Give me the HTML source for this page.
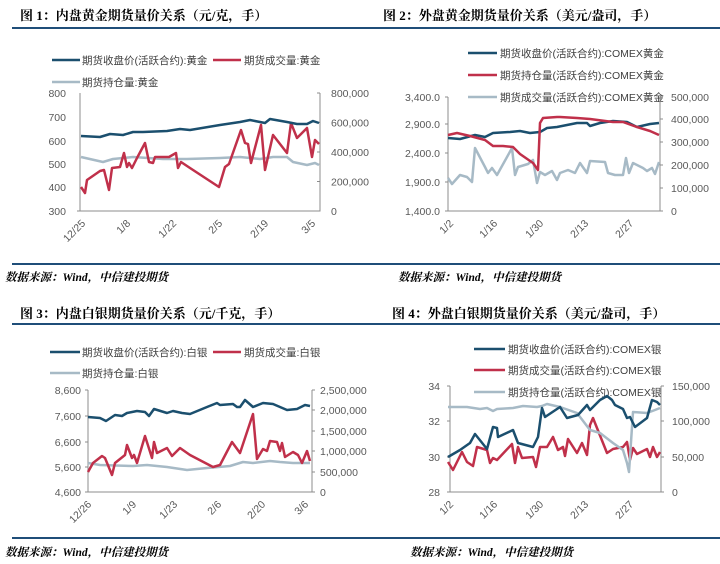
<!DOCTYPE html>
<html><head><meta charset="utf-8"><style>
html,body{margin:0;padding:0;background:#fff;}
svg{display:block;font-family:"Liberation Sans","Noto Sans CJK SC",sans-serif;}
.t{font-size:13px;font-weight:bold;fill:#000;font-family:"Liberation Serif","Noto Serif CJK SC",serif;}
.s{font-size:11.5px;font-weight:bold;font-style:italic;fill:#000;font-family:"Liberation Serif","Noto Serif CJK SC",serif;}
.l{font-size:10.5px;fill:#404040;}
.a{font-size:10.5px;fill:#595959;}
.ax{stroke:#8c8c8c;stroke-width:1;fill:none;}
.b{stroke:#1b4f6e;stroke-width:2.5;fill:none;stroke-linejoin:round;}
.r{stroke:#c0304a;stroke-width:2.5;fill:none;stroke-linejoin:round;}
.g{stroke:#a7bac6;stroke-width:2.5;fill:none;stroke-linejoin:round;}
.d{stroke:#1f4e79;stroke-width:2;}
</style></head><body>
<svg width="720" height="564" viewBox="0 0 720 564">
<!-- Chart 1 -->
<text class="t" x="20" y="20">图 1：内盘黄金期货量价关系（元/克，手）</text>
<line class="d" x1="12" y1="28" x2="360" y2="28"/>
<line class="b" x1="52" y1="60" x2="80" y2="60"/><text class="l" x="82" y="64">期货收盘价(活跃合约):黄金</text>
<line class="r" x1="213" y1="60" x2="241" y2="60"/><text class="l" x="244" y="64">期货成交量:黄金</text>
<line class="g" x1="52" y1="82" x2="80" y2="82"/><text class="l" x="82" y="86">期货持仓量:黄金</text>
<path class="ax" d="M80,93V211H320V93M77,211H80M317,93H320M317,122.5H320M317,152H320M317,181.5H320M317,211H320"/>
<g class="a" text-anchor="end"><text x="66" y="97">800</text><text x="66" y="121">700</text><text x="66" y="145">600</text><text x="66" y="168">500</text><text x="66" y="191">400</text><text x="66" y="215">300</text></g>
<g class="a"><text x="331" y="97">800,000</text><text x="331" y="126.5">600,000</text><text x="331" y="156">400,000</text><text x="331" y="185.5">200,000</text><text x="331" y="215">0</text></g>
<g class="a" text-anchor="end"><text transform="translate(86,224) rotate(-45)">12/25</text><text transform="translate(131,224) rotate(-45)">1/8</text><text transform="translate(177,224) rotate(-45)">1/22</text><text transform="translate(223,224) rotate(-45)">2/5</text><text transform="translate(269,224) rotate(-45)">2/19</text><text transform="translate(316,224) rotate(-45)">3/5</text></g>
<polyline class="g" points="81,157 103,162 113,159 133,157 163,159 187,159 220,158 240,157 260,159 273,157 287,157 293,162 307,165 315,163 319,165"/>
<polyline class="r" points="81,187 85,193 87,180 100,171 104,170 109,190 112,168 120,167 124,153 127,167 129,163 132,168 137,158 145,143 149,162 153,163 155,157 169,157 176,153 178,168 181,162 190,168 219,187 225,167 229,164 241,130 245,143 248,144 251,163 261,125 265,170 273,135 287,153 291,123 297,138 307,128 312,157 315,140 319,144"/>
<polyline class="b" points="81,136 100,137 110,134 123,135 133,132 143,132 167,131 180,129 190,130 220,125 240,122 250,120 265,123 270,119 287,122 297,124 307,124 313,121 319,123"/>
<line class="d" x1="12" y1="264" x2="360" y2="264"/>
<text class="s" x="5" y="281">数据来源：Wind，中信建投期货</text>

<!-- Chart 2 -->
<text class="t" x="383" y="20">图 2：外盘黄金期货量价关系（美元/盎司，手）</text>
<line class="d" x1="360" y1="28" x2="720" y2="28"/>
<line class="b" x1="468" y1="53" x2="497" y2="53"/><text class="l" x="500" y="57">期货收盘价(活跃合约):COMEX黄金</text>
<line class="r" x1="468" y1="75" x2="497" y2="75"/><text class="l" x="500" y="79">期货持仓量(活跃合约):COMEX黄金</text>
<line class="g" x1="468" y1="97" x2="497" y2="97"/><text class="l" x="500" y="101">期货成交量(活跃合约):COMEX黄金</text>
<path class="ax" d="M448,97V211H660V97M445,97H448M445,124H448M445,153H448M445,182H448M445,211H448M660,97H663M660,119H663M660,142H663M660,165H663M660,188H663M660,211H663"/>
<g class="a" text-anchor="end"><text x="440" y="101">3,400.0</text><text x="440" y="128">2,900.0</text><text x="440" y="157">2,400.0</text><text x="440" y="186">1,900.0</text><text x="440" y="215">1,400.0</text></g>
<g class="a"><text x="671" y="101">500,000</text><text x="671" y="123">400,000</text><text x="671" y="146">300,000</text><text x="671" y="169">200,000</text><text x="671" y="192">100,000</text><text x="671" y="215">0</text></g>
<g class="a" text-anchor="end"><text transform="translate(454,224) rotate(-45)">1/2</text><text transform="translate(498,224) rotate(-45)">1/16</text><text transform="translate(544,224) rotate(-45)">1/30</text><text transform="translate(589,224) rotate(-45)">2/13</text><text transform="translate(634,224) rotate(-45)">2/27</text></g>
<polyline class="g" points="448,178 452,184 460,175 467,177 472,182 475,148 485,167 488,173 492,168 497,175 512,148 515,175 518,167 528,164 533,160 537,183 540,172 545,175 552,171 557,180 560,173 568,170 575,173 580,163 587,173 590,161 605,162 608,173 615,175 623,175 626,158 629,173 633,163 643,168 647,171 652,168 655,174 659,162"/>
<polyline class="b" points="448,138 460,139 475,135 485,137 493,133 510,132 520,131 530,133 540,132 547,128 557,127 567,125 577,123 587,123 590,126 600,123 613,121 627,122 637,127 650,124 659,123"/>
<polyline class="r" points="448,135 457,133 470,136 485,140 493,146 503,146 513,147 520,154 533,163 538,170 540,123 543,118 557,117 560,117 577,118 590,119 613,122 623,122 637,127 650,131 659,135"/>
<line class="d" x1="360" y1="264" x2="720" y2="264"/>
<text class="s" x="398" y="281">数据来源：Wind，中信建投期货</text>

<!-- Chart 3 -->
<text class="t" x="20" y="318">图 3：内盘白银期货量价关系（元/千克，手）</text>
<line class="d" x1="12" y1="324" x2="360" y2="324"/>
<line class="b" x1="50" y1="352" x2="80" y2="352"/><text class="l" x="82" y="356">期货收盘价(活跃合约):白银</text>
<line class="r" x1="213" y1="352" x2="241" y2="352"/><text class="l" x="244" y="356">期货成交量:白银</text>
<line class="g" x1="50" y1="373" x2="80" y2="373"/><text class="l" x="82" y="377">期货持仓量:白银</text>
<path class="ax" d="M88,390V492H312V390M85,390H88M85,416H88M85,442H88M85,467H88M85,492H88M312,390H315M312,410H315M312,431H315M312,451H315M312,472H315M312,492H315"/>
<g class="a" text-anchor="end"><text x="81" y="394">8,600</text><text x="81" y="420">7,600</text><text x="81" y="446">6,600</text><text x="81" y="471">5,600</text><text x="81" y="496">4,600</text></g>
<g class="a"><text x="320" y="394">2,500,000</text><text x="320" y="414">2,000,000</text><text x="320" y="435">1,500,000</text><text x="320" y="455">1,000,000</text><text x="320" y="476">500,000</text><text x="320" y="496">0</text></g>
<g class="a" text-anchor="end"><text transform="translate(92,505) rotate(-45)">12/26</text><text transform="translate(137,505) rotate(-45)">1/9</text><text transform="translate(178,505) rotate(-45)">1/23</text><text transform="translate(222,505) rotate(-45)">2/6</text><text transform="translate(266,505) rotate(-45)">2/20</text><text transform="translate(309,505) rotate(-45)">3/6</text></g>
<polyline class="g" points="88,463 100,465 133,466 147,465 167,467 187,470 207,468 230,466 243,462 253,463 270,461 280,462 293,463 310,463"/>
<polyline class="r" points="88,472 93,463 102,456 105,458 112,475 115,463 125,455 127,445 132,458 134,455 137,463 145,436 152,458 154,442 157,453 167,448 172,456 180,448 190,455 213,467 220,465 232,442 240,453 253,414 257,459 263,449 267,451 270,441 277,442 280,451 282,443 285,457 293,452 298,455 302,463 307,451 310,461"/>
<polyline class="b" points="88,417 100,418 106,421 115,415 122,416 127,413 137,411 145,412 149,416 154,409 167,413 173,411 182,413 190,414 207,407 217,403 220,405 233,404 237,407 240,407 245,400 253,407 263,403 273,404 280,407 287,410 297,409 305,405 310,406"/>
<line class="d" x1="12" y1="538" x2="360" y2="538"/>
<text class="s" x="5" y="556">数据来源：Wind，中信建投期货</text>

<!-- Chart 4 -->
<text class="t" x="392" y="318">图 4：外盘白银期货量价关系（美元/盎司，手）</text>
<line class="d" x1="360" y1="324" x2="720" y2="324"/>
<line class="b" x1="474" y1="349" x2="505" y2="349"/><text class="l" x="508" y="353">期货收盘价(活跃合约):COMEX银</text>
<line class="r" x1="474" y1="370" x2="505" y2="370"/><text class="l" x="508" y="374">期货成交量(活跃合约):COMEX银</text>
<line class="g" x1="474" y1="392" x2="505" y2="392"/><text class="l" x="508" y="396">期货持仓量(活跃合约):COMEX银</text>
<path class="ax" d="M450,386V492H661V386M447,386H450M447,421H450M447,457H450M447,492H450M661,386H664M661,421H664M661,457H664M661,492H664"/>
<g class="a" text-anchor="end"><text x="440" y="390">34</text><text x="440" y="425">32</text><text x="440" y="461">30</text><text x="440" y="496">28</text></g>
<g class="a"><text x="672" y="390">150,000</text><text x="672" y="425">100,000</text><text x="672" y="461">50,000</text><text x="672" y="496">0</text></g>
<g class="a" text-anchor="end"><text transform="translate(454,505) rotate(-45)">1/2</text><text transform="translate(498,505) rotate(-45)">1/16</text><text transform="translate(544,505) rotate(-45)">1/30</text><text transform="translate(589,505) rotate(-45)">2/13</text><text transform="translate(634,505) rotate(-45)">2/27</text></g>
<polyline class="r" points="448,462 453,470 462,452 467,462 473,466 477,447 487,450 490,463 493,458 497,460 512,444 515,463 518,447 522,458 533,457 536,467 540,447 547,447 553,437 558,450 563,447 565,456 568,439 577,453 582,443 587,455 590,425 593,418 607,453 613,449 623,447 627,442 630,460 633,448 637,454 647,449 650,457 653,447 657,457 660,452"/>
<polyline class="g" points="448,407 467,407 480,409 487,408 493,411 497,409 513,408 523,406 537,407 542,406 547,404 560,407 577,413 590,430 600,433 613,443 623,450 627,463 629,472 633,412 647,413 655,410 660,408"/>
<polyline class="b" points="448,457 460,450 470,443 475,434 487,449 493,427 497,428 498,437 513,430 518,443 533,447 538,437 542,408 545,417 560,407 567,418 578,415 587,405 590,410 600,400 607,396 612,400 615,405 623,409 627,418 630,417 635,427 647,418 652,400 657,402 660,405"/>
<line class="d" x1="360" y1="538" x2="720" y2="538"/>
<text class="s" x="410" y="556">数据来源：Wind，中信建投期货</text>
</svg>
</body></html>
